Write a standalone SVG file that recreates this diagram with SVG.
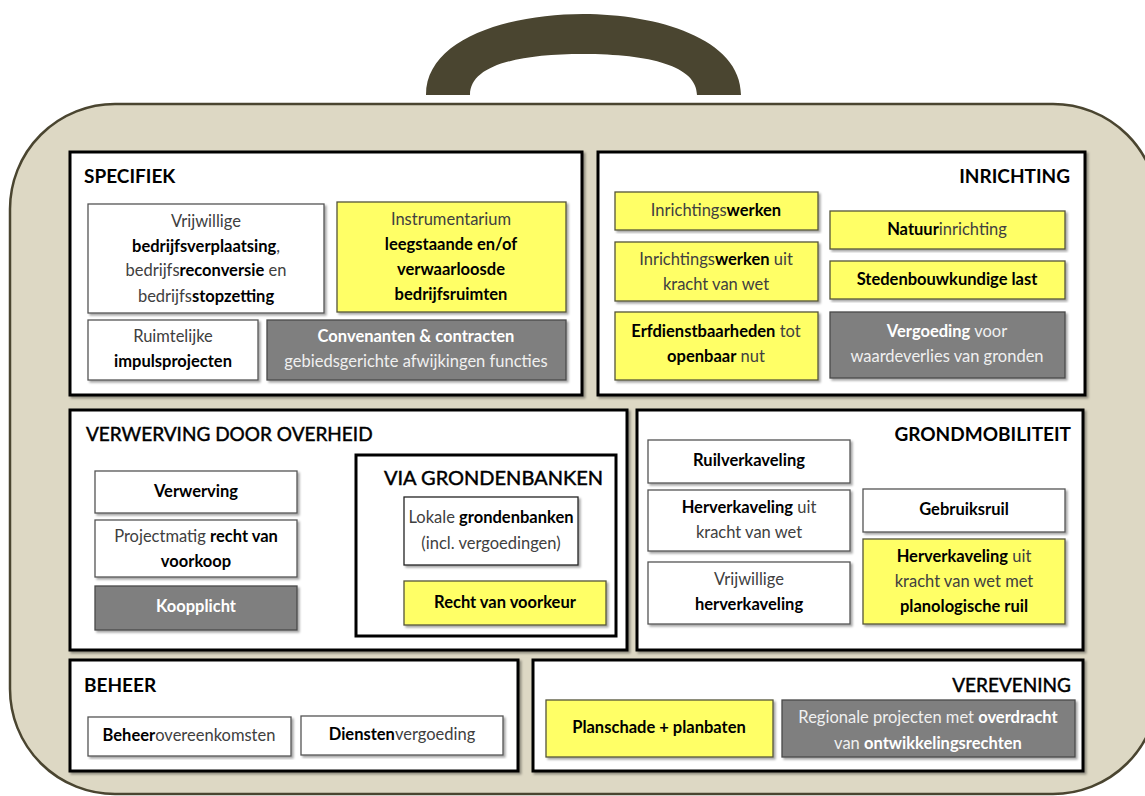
<svg xmlns="http://www.w3.org/2000/svg" width="1145" height="796" viewBox="0 0 1145 796">
<defs>
<filter id="sh" x="-5%" y="-5%" width="110%" height="115%">
<feDropShadow dx="2" dy="2" stdDeviation="1" flood-color="#000" flood-opacity="0.35"/>
</filter>
<style>
text{font-family:Lato,"Open Sans","Liberation Sans",sans-serif;font-size:16.5px;fill:#404040;text-anchor:middle}
.b{font-weight:bold;fill:#000}
.sec{fill:#fff;stroke:#000;stroke-width:3;filter:url(#sh)}
.w{fill:#fff;stroke:#555;stroke-width:1.3;filter:url(#sh)}
.y{fill:#ffff66;stroke:#55553a;stroke-width:1.3;filter:url(#sh)}
.g{fill:#7f7f7f;stroke:#4a4a4a;stroke-width:1.3;filter:url(#sh)}
.gt{fill:#f0f0f0}
.gt .b,.gb{fill:#fff;font-weight:bold}
.h{font-size:19px;fill:#000;text-anchor:start}
.hr{font-size:19px;fill:#000;text-anchor:end}
.hb{font-weight:bold}
.hm{stroke:#000;stroke-width:0.45}
</style>
</defs>
<rect width="1145" height="796" fill="#fff"/>
<g id="suitcase">
<path d="M426,95 C426,38 510,14 583,14 C656,14 741,38 741,95 L697,95 C697,66 650,54 583,54 C516,54 470,66 470,95 Z" fill="#4a4530"/>
<rect x="10" y="104" width="1148" height="690" rx="105" fill="#ddd8c4" stroke="#4a4530" stroke-width="2.5"/>
</g>
<g id="connectors"></g>

<g id="specifiek">
<rect class="sec" x="70" y="152" width="512" height="243"/>
<text class="h hb" x="84" y="183">SPECIFIEK</text>
</g>
<g id="n-vrijwillige-bedrijf">
<rect class="w" x="88" y="204" width="236" height="109"/>
<text x="206" y="227">Vrijwillige</text>
<text x="206" y="252"><tspan class="b">bedrijfsverplaatsing</tspan>,</text>
<text x="206" y="276">bedrijfs<tspan class="b">reconversie</tspan> en</text>
<text x="206" y="302">bedrijfs<tspan class="b">stopzetting</tspan></text>
</g>
<g id="n-instrumentarium">
<rect class="y" x="337" y="202" width="229" height="110"/>
<text x="451" y="225">Instrumentarium</text>
<text x="451" y="250" class="b">leegstaande en/of</text>
<text x="451" y="275" class="b">verwaarloosde</text>
<text x="451" y="300" class="b">bedrijfsruimten</text>
</g>
<g id="n-ruimtelijke">
<rect class="w" x="88" y="320" width="170" height="60"/>
<text x="173" y="342">Ruimtelijke</text>
<text x="173" y="367" class="b">impulsprojecten</text>
</g>
<g id="n-convenanten">
<rect class="g" x="267" y="320" width="299" height="60"/>
<text x="416" y="342" class="gb">Convenanten &amp; contracten</text>
<text x="416" y="367" class="gt">gebiedsgerichte afwijkingen functies</text>
</g>

<g id="inrichting">
<rect class="sec" x="598" y="152" width="487" height="243"/>
<text class="hr hb" x="1070" y="183">INRICHTING</text>
</g>
<g id="n-inrichtingswerken">
<rect class="y" x="615" y="192" width="203" height="38"/>
<text x="716" y="216">Inrichtings<tspan class="b">werken</tspan></text>
</g>
<g id="n-natuurinrichting">
<rect class="y" x="830" y="211" width="235" height="38"/>
<text x="947" y="235"><tspan class="b">Natuur</tspan>inrichting</text>
</g>
<g id="n-inrichtingswerken-wet">
<rect class="y" x="615" y="242" width="203" height="59"/>
<text x="716" y="265">Inrichtings<tspan class="b">werken</tspan> uit</text>
<text x="716" y="290">kracht van wet</text>
</g>
<g id="n-stedenbouwkundige">
<rect class="y" x="830" y="261" width="235" height="38"/>
<text x="947" y="285" class="b">Stedenbouwkundige last</text>
</g>
<g id="n-erfdienstbaarheden">
<rect class="y" x="615" y="312" width="203" height="68"/>
<text x="716" y="337"><tspan class="b">Erfdienstbaarheden</tspan> tot</text>
<text x="716" y="362"><tspan class="b">openbaar</tspan> nut</text>
</g>
<g id="n-vergoeding">
<rect class="g" x="830" y="312" width="235" height="66"/>
<text x="947" y="337" class="gt"><tspan class="b">Vergoeding</tspan> voor</text>
<text x="947" y="362" class="gt">waardeverlies van gronden</text>
</g>

<g id="verwerving">
<rect class="sec" x="70" y="410" width="557" height="240"/>
<text class="h hm" x="86" y="441">VERWERVING DOOR OVERHEID</text>
</g>
<g id="n-verwerving">
<rect class="w" x="95" y="471" width="202" height="42"/>
<text x="196" y="497" class="b">Verwerving</text>
</g>
<g id="n-projectmatig">
<rect class="w" x="95" y="520" width="202" height="57"/>
<text x="196" y="542">Projectmatig <tspan class="b">recht van</tspan></text>
<text x="196" y="567" class="b">voorkoop</text>
</g>
<g id="n-koopplicht">
<rect class="g" x="95" y="586" width="202" height="44"/>
<text x="196" y="612" class="gb">Koopplicht</text>
</g>
<g id="via-grondenbanken">
<rect class="sec" x="356" y="455" width="260" height="181" style="filter:none"/>
<text class="hr hm" x="603" y="485" style="font-size:20px">VIA GRONDENBANKEN</text>
</g>
<g id="n-lokale">
<rect class="w" x="404" y="497" width="174" height="68" style="stroke:#222"/>
<text x="491" y="523">Lokale <tspan class="b">grondenbanken</tspan></text>
<text x="491" y="549">(incl. vergoedingen)</text>
</g>
<g id="n-recht-voorkeur">
<rect class="y" x="404" y="581" width="202" height="44"/>
<text x="505" y="608" class="b">Recht van voorkeur</text>
</g>

<g id="grondmobiliteit">
<rect class="sec" x="637" y="410" width="446" height="240"/>
<text class="hr hb" x="1071" y="441">GRONDMOBILITEIT</text>
</g>
<g id="n-ruilverkaveling">
<rect class="w" x="648" y="440" width="202" height="43"/>
<text x="749" y="466" class="b">Ruilverkaveling</text>
</g>
<g id="n-herverkaveling-wet">
<rect class="w" x="648" y="490" width="202" height="61"/>
<text x="749" y="513"><tspan class="b">Herverkaveling</tspan> uit</text>
<text x="749" y="538">kracht van wet</text>
</g>
<g id="n-vrijwillige-herverkaveling">
<rect class="w" x="648" y="562" width="202" height="62"/>
<text x="749" y="585">Vrijwillige</text>
<text x="749" y="610" class="b">herverkaveling</text>
</g>
<g id="n-gebruiksruil">
<rect class="w" x="863" y="489" width="202" height="43"/>
<text x="964" y="515" class="b">Gebruiksruil</text>
</g>
<g id="n-herverkaveling-planologisch">
<rect class="y" x="863" y="539" width="202" height="85"/>
<text x="964" y="562"><tspan class="b">Herverkaveling</tspan> uit</text>
<text x="964" y="587">kracht van wet met</text>
<text x="964" y="612" class="b">planologische ruil</text>
</g>

<g id="beheer">
<rect class="sec" x="70" y="660" width="448" height="111"/>
<text class="h hb" x="84" y="692">BEHEER</text>
</g>
<g id="n-beheerovereenkomsten">
<rect class="w" x="88" y="717" width="203" height="39"/>
<text x="189" y="741"><tspan class="b">Beheer</tspan>overeenkomsten</text>
</g>
<g id="n-dienstenvergoeding">
<rect class="w" x="301" y="716" width="202" height="39"/>
<text x="402" y="740"><tspan class="b">Diensten</tspan>vergoeding</text>
</g>

<g id="verevening">
<rect class="sec" x="533" y="660" width="550" height="111"/>
<text class="hr hm" x="1071" y="692">VEREVENING</text>
</g>
<g id="n-planschade">
<rect class="y" x="546" y="700" width="227" height="57"/>
<text x="659" y="733" class="b">Planschade + planbaten</text>
</g>
<g id="n-regionale">
<rect class="g" x="782" y="700" width="293" height="57"/>
<text x="928" y="723" class="gt">Regionale projecten met <tspan class="b">overdracht</tspan></text>
<text x="928" y="749" class="gt">van <tspan class="b">ontwikkelingsrechten</tspan></text>
</g>
</svg>
